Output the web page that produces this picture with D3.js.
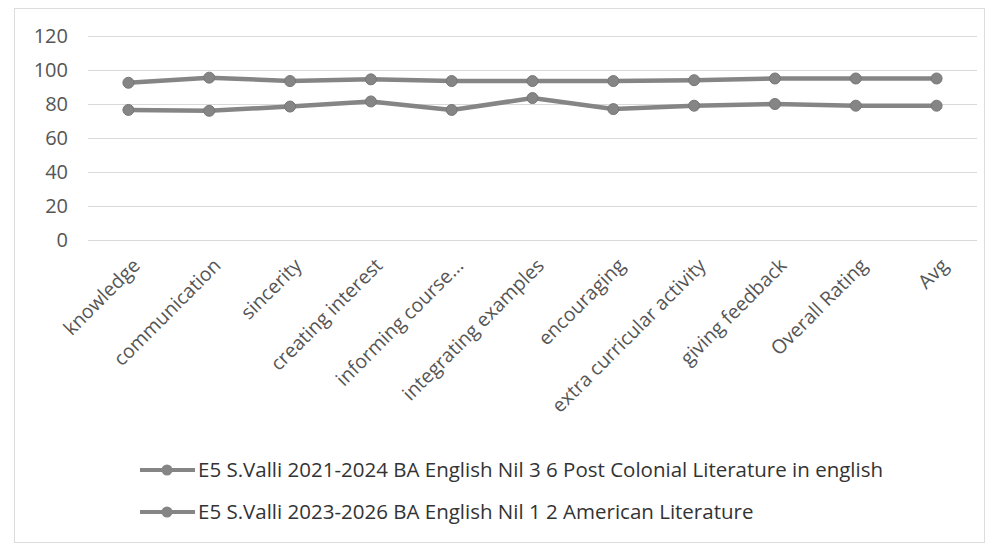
<!DOCTYPE html>
<html><head><meta charset="utf-8">
<script src="https://cdn.jsdelivr.net/npm/d3@7"></script>
<style>
html,body{margin:0;padding:0;background:#fff;}
svg{display:block;}
</style></head>
<body>
<svg id="chart" width="987" height="546"></svg>
<script>
const categories = ["knowledge","communication","sincerity","creating interest","informing course...","integrating examples","encouraging","extra curricular activity","giving feedback","Overall Rating","Avg"];
const series1Name = "E5 S.Valli 2021-2024 BA English Nil 3 6 Post Colonial Literature in english";
const series1 = [92.5, 95.5, 93.5, 94.5, 93.5, 93.5, 93.5, 94, 95, 95, 95];
const series2Name = "E5 S.Valli 2023-2026 BA English Nil 1 2 American Literature";
const series2 = [76.5, 76, 78.5, 81.5, 76.5, 83.5, 77, 79, 80, 79, 79];
const yTicks = [0, 20, 40, 60, 80, 100, 120];

const svg = d3.select("#chart");
const font = "'Open Sans', 'Noto Sans', sans-serif";

// frame
svg.append("rect").attr("x", 14.5).attr("y", 8.5).attr("width", 970).attr("height", 534)
  .attr("fill", "#fff").attr("stroke", "#dcdcdc").attr("stroke-width", 1);

const x = d3.scaleBand().domain(categories).range([88, 977]).padding(0);
const y = d3.scaleLinear().domain([0, 120]).range([240, 36]);

// gridlines
const grid = d3.axisLeft(y).tickValues(yTicks).tickSize(-(977 - 88)).tickFormat("");
svg.append("g").attr("transform", "translate(88,0)").call(grid)
  .call(g => g.select(".domain").remove())
  .call(g => g.selectAll("line").attr("stroke", "#d9d9d9").attr("stroke-width", 1));

// y labels
const yAxis = d3.axisLeft(y).tickValues(yTicks).tickSize(0).tickPadding(0);
svg.append("g").attr("transform", "translate(68,0)").call(yAxis)
  .call(g => g.select(".domain").remove())
  .call(g => g.selectAll("text").attr("font-family", font).attr("font-size", 20).attr("fill", "#555"));

// x labels
const xAxis = d3.axisBottom(x).tickSize(0).tickPadding(0);
svg.append("g").attr("transform", "translate(0,262)").call(xAxis)
  .call(g => g.select(".domain").remove())
  .call(g => g.selectAll("text")
    .attr("font-family", font).attr("font-size", 19.5).attr("fill", "#555")
    .attr("text-anchor", "end").attr("dy", "0.35em")
    .attr("transform", "translate(8,0) rotate(-45)"));

const line = d3.line().x((d, i) => x(categories[i]) + x.bandwidth() / 2).y(d => y(d));
const color = "#858585";
[series1, series2].forEach(s => {
  svg.append("path").datum(s).attr("d", line).attr("fill", "none")
    .attr("stroke", color).attr("stroke-width", 4.5).attr("stroke-linejoin", "round");
  svg.append("g").selectAll("circle").data(s).join("circle")
    .attr("cx", (d, i) => x(categories[i]) + x.bandwidth() / 2)
    .attr("cy", d => y(d)).attr("r", 5.5).attr("fill", color).attr("stroke", "#777").attr("stroke-width", 1);
});

// legend
const legend = svg.append("g");
[series1Name, series2Name].forEach((name, i) => {
  const ly = 470 + i * 42;
  const g = legend.append("g").attr("transform", `translate(140,${ly})`);
  g.append("line").attr("x1", 0).attr("x2", 55).attr("y1", 0).attr("y2", 0).attr("stroke", color).attr("stroke-width", 4);
  g.append("circle").attr("cx", 27).attr("cy", 0).attr("r", 5.5).attr("fill", color);
  g.append("text").attr("x", 58).attr("y", 0).attr("dy", "0.35em")
    .attr("font-family", font).attr("font-size", 20.5).attr("fill", "#333").text(name);
});
</script>
</body></html>
